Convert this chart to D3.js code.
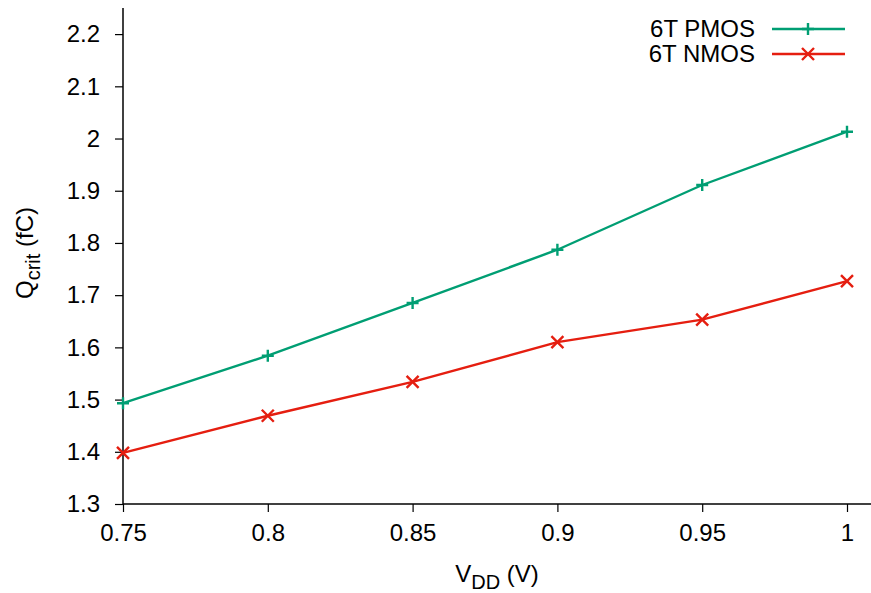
<!DOCTYPE html>
<html>
<head>
<meta charset="utf-8">
<script src="https://cdn.jsdelivr.net/npm/d3@7"></script>
<style>
  body { margin: 0; background: #fff; }
  svg { font-family: "Liberation Sans", Arial, sans-serif; }
</style>
</head>
<body>
<div id="chart"></div>
<script>
// data
var vdd = [0.75, 0.8, 0.85, 0.9, 0.95, 1.0];
var pmos = [1.493, 1.584, 1.685, 1.787, 1.911, 2.013];
var nmos = [1.398, 1.469, 1.534, 1.610, 1.653, 1.727];
var xTicks = [0.75, 0.8, 0.85, 0.9, 0.95, 1];
var yTicks = [1.3, 1.4, 1.5, 1.6, 1.7, 1.8, 1.9, 2, 2.1, 2.2];
var seriesNames = ["6T PMOS", "6T NMOS"];

var width = 871, height = 593;
var mLeft = 123, mBottom = 504, mTop = 8, mRight = 847;
var fs = "24px";

var svg = d3.select("#chart").append("svg")
    .attr("width", width)
    .attr("height", height);

var x = d3.scaleLinear().domain([0.75, 1]).range([mLeft, mRight]);
var y = d3.scaleLinear().domain([1.3, 2.25]).range([mBottom, mTop]);

// axes
var xAxis = svg.append("g")
    .attr("transform", "translate(0," + mBottom + ")")
    .call(d3.axisBottom(x).tickValues(xTicks).tickSize(8).tickPadding(12)
        .tickFormat(function (d) { return String(+d.toFixed(2)); }));
xAxis.select(".domain").remove();
svg.append("line")
    .attr("x1", mLeft).attr("x2", width)
    .attr("y1", mBottom).attr("y2", mBottom)
    .attr("stroke", "#000").attr("stroke-width", 1.5);

var yAxis = svg.append("g")
    .attr("transform", "translate(" + mLeft + ",0)")
    .call(d3.axisLeft(y).tickValues(yTicks).tickSize(8).tickPadding(15)
        .tickFormat(function (d) { return String(+d.toFixed(1)); }));
yAxis.select(".domain").remove();
svg.append("line")
    .attr("x1", mLeft).attr("x2", mLeft)
    .attr("y1", mTop).attr("y2", mBottom)
    .attr("stroke", "#000").attr("stroke-width", 1.5);

svg.selectAll(".tick line").attr("stroke", "#000").attr("stroke-width", 1.2);
svg.selectAll(".tick text")
    .attr("fill", "#000")
    .style("font-size", fs)
    .style("font-family", "Liberation Sans, Arial, sans-serif");
xAxis.attr("font-size", null);
yAxis.attr("font-size", null);

// axis titles
var xl = svg.append("text")
    .attr("x", 497).attr("y", 582)
    .attr("text-anchor", "middle")
    .style("font-size", fs);
xl.append("tspan").text("V");
xl.append("tspan").attr("dy", 7).style("font-size", "20px").text("DD");
xl.append("tspan").attr("dy", -7).text(" (V)");

var yl = svg.append("text")
    .attr("transform", "translate(33,253) rotate(-90)")
    .attr("text-anchor", "middle")
    .style("font-size", fs);
yl.append("tspan").text("Q");
yl.append("tspan").attr("dy", 7).style("font-size", "20px").text("crit");
yl.append("tspan").attr("dy", -7).text(" (fC)");

// series
var colors = ["#009e73", "#e51e10"];
var allSeries = [pmos, nmos];

var line = d3.line()
    .x(function (d, i) { return x(vdd[i]); })
    .y(function (d) { return y(d); });

function plusPath(s) {
    return "M" + (-s) + ",0H" + s + "M0," + (-s) + "V" + s;
}
function crossPath(s) {
    return "M" + (-s) + "," + (-s) + "L" + s + "," + s + "M" + (-s) + "," + s + "L" + s + "," + (-s);
}
var markers = [plusPath(6), crossPath(6)];

allSeries.forEach(function (vals, k) {
    svg.append("path")
        .datum(vals)
        .attr("fill", "none")
        .attr("stroke", colors[k])
        .attr("stroke-width", 2.4)
        .attr("d", line);

    svg.selectAll(".m" + k)
        .data(vals)
        .enter().append("path")
        .attr("class", "m" + k)
        .attr("transform", function (d, i) { return "translate(" + x(vdd[i]) + "," + y(d) + ")"; })
        .attr("d", markers[k])
        .attr("stroke", colors[k])
        .attr("stroke-width", 2.4)
        .attr("fill", "none");
});

// legend
seriesNames.forEach(function (name, k) {
    var ly = 29 + k * 25;
    svg.append("text")
        .attr("x", 755).attr("y", ly)
        .attr("dy", "0.35em")
        .attr("text-anchor", "end")
        .style("font-size", fs)
        .text(name);
    svg.append("line")
        .attr("x1", 772).attr("x2", 845)
        .attr("y1", ly).attr("y2", ly)
        .attr("stroke", colors[k]).attr("stroke-width", 2.4);
    svg.append("path")
        .attr("transform", "translate(808," + ly + ")")
        .attr("d", markers[k])
        .attr("stroke", colors[k]).attr("stroke-width", 2.4)
        .attr("fill", "none");
});
</script>
</body>
</html>
